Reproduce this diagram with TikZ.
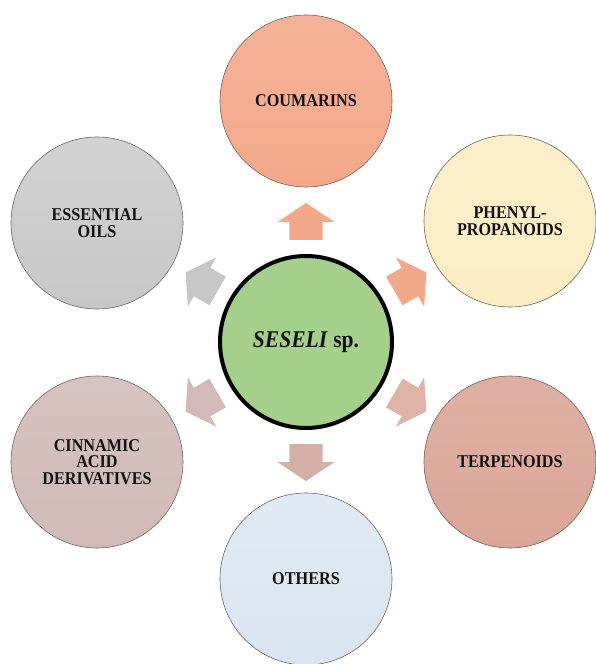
\documentclass[tikz,border=0pt]{standalone}
\usepackage{fontspec}
\setmainfont{Liberation Serif}
\newfontfamily\narrowserif{Liberation Serif}[FakeStretch=0.9]
\usepackage{tikz}
\definecolor{coumarin}{HTML}{F4A88A}
\definecolor{phenyl}{HTML}{FCEDC4}
\definecolor{terpene}{HTML}{DAA697}
\definecolor{others}{HTML}{D9E5F1}
\definecolor{cinnamic}{HTML}{D1BAB8}
\definecolor{essoil}{HTML}{C7C7C7}
\definecolor{seseli}{HTML}{A5D08B}
\definecolor{rim}{HTML}{6E6360}
\definecolor{ink}{HTML}{141212}

\begin{document}
\begin{tikzpicture}[x=1pt, y=1pt,
    group/.style={circle, draw=rim, line width=0.6pt, minimum size=172pt,
      inner sep=0pt, align=center, text=ink,
      font=\narrowserif\fontsize{18}{16.5}\selectfont\bfseries},
    hub/.style={circle, draw=black, line width=4pt, minimum size=172pt,
      inner sep=0pt, fill=seseli, text=ink,
      font=\narrowserif\fontsize{24}{24}\selectfont\bfseries}]

    \useasboundingbox (-306,-322) rectangle (289,342);

    % Arrows out of the hub
    \fill[coumarin, rotate=90]
    (102,-16.5)--(120,-16.5)--(120,-28.5)--(139,0)--(120,28.5)--(120,16.5)--(102,16.5)--cycle;
    \fill[coumarin!92!terpene, rotate=30]
    (102,-16.5)--(120,-16.5)--(120,-28.5)--(139,0)--(120,28.5)--(120,16.5)--(102,16.5)--cycle;
    \fill[terpene!85!white, rotate=-30]
    (102,-16.5)--(120,-16.5)--(120,-28.5)--(139,0)--(120,28.5)--(120,16.5)--(102,16.5)--cycle;
    \fill[terpene!55!cinnamic, rotate=-90]
    (102,-16.5)--(120,-16.5)--(120,-28.5)--(139,0)--(120,28.5)--(120,16.5)--(102,16.5)--cycle;
    \fill[cinnamic, rotate=-150]
    (102,-16.5)--(120,-16.5)--(120,-28.5)--(139,0)--(120,28.5)--(120,16.5)--(102,16.5)--cycle;
    \fill[essoil, rotate=150]
    (102,-16.5)--(120,-16.5)--(120,-28.5)--(139,0)--(120,28.5)--(120,16.5)--(102,16.5)--cycle;

    % Hub
    \node[hub] (seseli) at (0,0) {\textit{SESELI} sp.};

    % Compound groups
    \node[group, top color=coumarin!88!white, bottom color=coumarin]
      (coumarins) at (0,241) {COUMARINS};
    \node[group, top color=phenyl!88!white, bottom color=phenyl]
      (phenylpropanoids) at (204,121) {PHENYL-\\PROPANOIDS};
    \node[group, top color=terpene!88!white, bottom color=terpene]
      (terpenoids) at (204,-120) {TERPENOIDS};
    \node[group, top color=others!80!white, bottom color=others]
      (others) at (0,-237) {OTHERS};
    \node[group, top color=cinnamic!88!white, bottom color=cinnamic]
      (cinnamic) at (-209,-120) {CINNAMIC\\ACID\\DERIVATIVES};
    \node[group, top color=essoil!80!white, bottom color=essoil]
      (essential) at (-209,119) {ESSENTIAL\\OILS};

\end{tikzpicture}
\end{document}
